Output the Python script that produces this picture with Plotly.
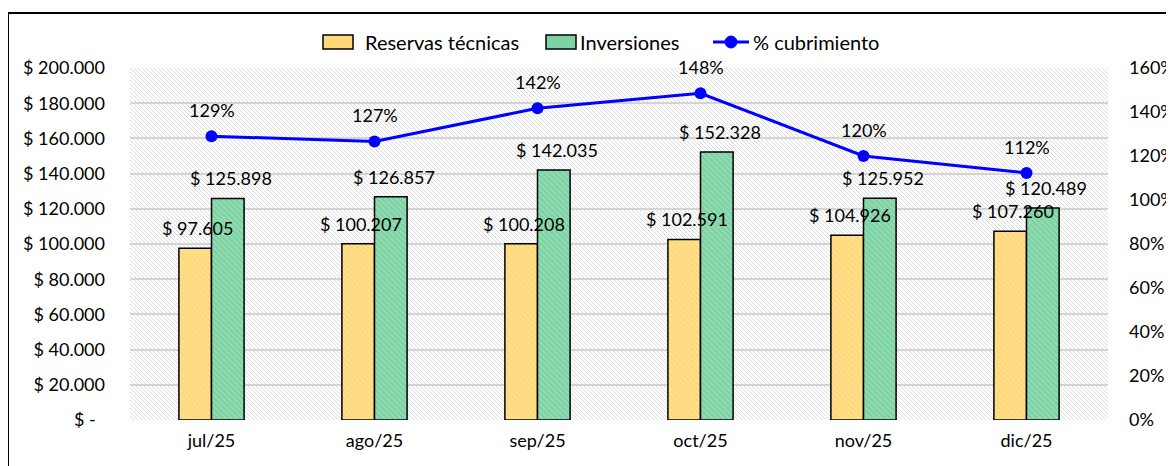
import base64
import plotly.graph_objects as go

# ---- data ----
months = ["jul/25", "ago/25", "sep/25", "oct/25", "nov/25", "dic/25"]
reservas = [97605, 100207, 100208, 102591, 104926, 107260]
inversiones = [125898, 126857, 142035, 152328, 125952, 120489]
cubrimiento = [1.29, 1.266, 1.417, 1.485, 1.20, 1.123]
left_ticks = [0, 20000, 40000, 60000, 80000, 100000, 120000, 140000, 160000, 180000, 200000]
left_ticktext = ["$ -&nbsp;&nbsp;", "$ 20.000", "$ 40.000", "$ 60.000", "$ 80.000", "$ 100.000",
                 "$ 120.000", "$ 140.000", "$ 160.000", "$ 180.000", "$ 200.000"]
series_names = ["Reservas técnicas", "Inversiones", "% cubrimiento"]

FONT = "Lato"
FS = 18
YELLOW = "#FFD97A"
GREEN = "#7DD3A4"
BLUE = "#0000FF"

# page offset (body margin) compensation
OFF = 7
L, R, T, B = 129 - OFF, 1107 - OFF, 67 - OFF, 419 - OFF


def px(x):
    return (x - OFF - L) / (R - L)


def py(y):
    return (B - (y - OFF)) / (B - T)


def money(v):
    return "$ " + f"{v:,}".replace(",", ".")


# hatch background svg
W, H = R - L, B - T
lines = []
step = 4
for k in range(-H, W + H, step):
    lines.append(f'<line x1="{k}" y1="0" x2="{k + H}" y2="{H}" />')
svg = (f'<svg xmlns="http://www.w3.org/2000/svg" width="{W}" height="{H}">'
       f'<rect width="{W}" height="{H}" fill="#ffffff"/>'
       f'<g stroke="#dcdcdc" stroke-width="1">' + "".join(lines) + '</g></svg>')
src = "data:image/svg+xml;base64," + base64.b64encode(svg.encode()).decode()

pattern = dict(shape="\\", fgcolor="#ffffff", fgopacity=0.3, size=4, solidity=0.25)

fig = go.Figure()
fig.add_trace(go.Bar(x=months, y=reservas, name=series_names[0], showlegend=False,
                     marker=dict(color=YELLOW, line=dict(color="black", width=1.5), pattern=pattern)))
fig.add_trace(go.Bar(x=months, y=inversiones, name=series_names[1], showlegend=False,
                     marker=dict(color=GREEN, line=dict(color="black", width=1.5), pattern=pattern)))
fig.add_trace(go.Scatter(x=months, y=cubrimiento, name=series_names[2], yaxis="y2", showlegend=False,
                         mode="lines+markers", line=dict(color=BLUE, width=3),
                         marker=dict(color=BLUE, size=12)))

annotations = []
for i in range(len(months)):
    annotations.append(dict(x=i - 0.1, y=reservas[i], xref="x", yref="y", text=money(reservas[i]),
                            showarrow=False, yanchor="middle", yshift=20, xshift=3,
                            font=dict(family=FONT, size=FS, color="black")))
    annotations.append(dict(x=i + 0.1, y=inversiones[i], xref="x", yref="y", text=money(inversiones[i]),
                            showarrow=False, yanchor="middle", yshift=20, xshift=3,
                            font=dict(family=FONT, size=FS, color="black")))
    annotations.append(dict(x=i, y=cubrimiento[i], xref="x", yref="y2",
                            text=f"{round(cubrimiento[i] * 100):.0f}%",
                            showarrow=False, yanchor="middle", yshift=26,
                            font=dict(family=FONT, size=FS, color="black")))

# custom legend (reference pixel coordinates)
shapes = []
leg_boxes = [(322, 352, YELLOW, 362), (545, 575, GREEN, 577)]
for (x0, x1, col, tx), name in zip(leg_boxes, series_names[:2]):
    shapes.append(dict(type="rect", xref="paper", yref="paper", x0=px(x0), x1=px(x1),
                       y0=py(48), y1=py(34), fillcolor=col, line=dict(color="black", width=1.5)))
    annotations.append(dict(x=px(tx), y=py(41), xref="paper", yref="paper", text=name,
                            showarrow=False, xanchor="left", yanchor="middle",
                            font=dict(family=FONT, size=20, color="black")))
shapes.append(dict(type="line", xref="paper", yref="paper", x0=px(712), x1=px(748),
                   y0=py(41), y1=py(41), line=dict(color=BLUE, width=3)))
shapes.append(dict(type="circle", xref="paper", yref="paper", x0=px(724), x1=px(736),
                   y0=py(47), y1=py(35), fillcolor=BLUE, line=dict(color=BLUE, width=1)))
annotations.append(dict(x=px(750), y=py(41), xref="paper", yref="paper", text=series_names[2],
                        showarrow=False, xanchor="left", yanchor="middle",
                        font=dict(family=FONT, size=20, color="black")))

# outer frame
shapes.append(dict(type="rect", xref="paper", yref="paper",
                   x0=px(7), x1=1.3, y0=-0.5, y1=py(12),
                   line=dict(color="black", width=2), fillcolor="rgba(0,0,0,0)", layer="above"))

fig.update_layout(
    width=1174, height=466,
    margin=dict(l=L, r=1174 - R, t=T, b=466 - B, autoexpand=False),
    paper_bgcolor="white", plot_bgcolor="rgba(0,0,0,0)",
    barmode="group", bargap=0.6, bargroupgap=0,
    font=dict(family=FONT, size=FS, color="black"),
    showlegend=False,
    xaxis=dict(showgrid=False, ticks="", ticklabelstandoff=8, showline=False, automargin=False,
               tickfont=dict(family=FONT, size=FS, color="black")),
    yaxis=dict(range=[0, 200000], tickvals=left_ticks, ticktext=left_ticktext,
               showgrid=True, gridcolor="#d4d4d4", gridwidth=1.5, zeroline=False,
               ticks="", ticklabelstandoff=24, showline=False, automargin=False,
               tickfont=dict(family=FONT, size=FS, color="black")),
    yaxis2=dict(range=[0, 1.6], dtick=0.2, tickformat=".0%", overlaying="y", side="right",
                showgrid=False, zeroline=False, ticks="", ticklabelstandoff=20, automargin=False,
                tickfont=dict(family=FONT, size=FS, color="black")),
    annotations=annotations,
    shapes=shapes,
    images=[dict(source=src, xref="paper", yref="paper", x=0, y=1, sizex=1, sizey=1,
                 sizing="stretch", xanchor="left", yanchor="top", layer="below")],
)

fig.write_html("out.html")
